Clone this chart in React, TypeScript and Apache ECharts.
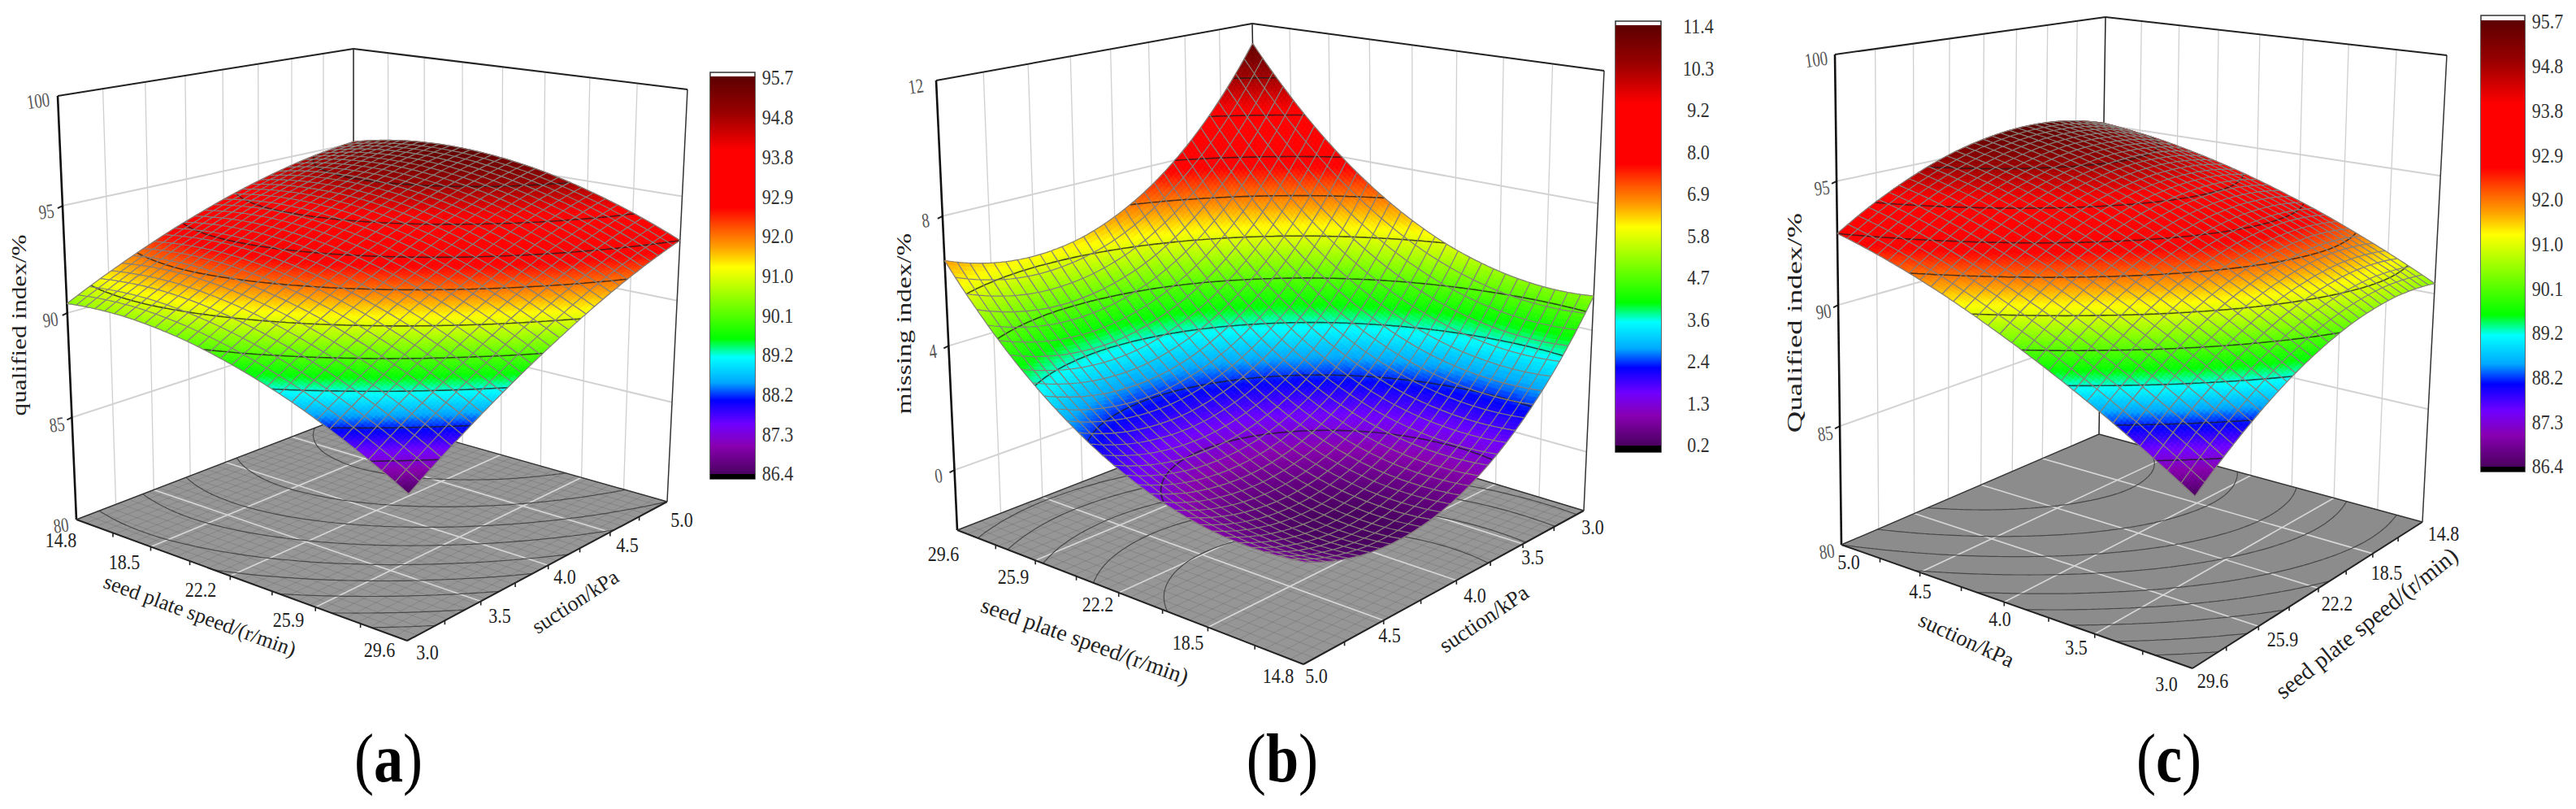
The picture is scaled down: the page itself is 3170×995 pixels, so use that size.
import React, { useEffect, useRef } from "react";
import * as echarts from "echarts";

// Rows run over suction (3.0 -> 5.0 kPa), columns over seed plate speed (14.8 -> 29.6 r/min).
const qualifiedRow0 = [90.44, 90.57, 90.59, 90.48, 90.26, 89.91, 89.45, 88.87, 88.16, 87.34, 86.4];
const qualifiedRow1 = [91.21, 91.36, 91.4, 91.31, 91.1, 90.78, 90.33, 89.77, 89.08, 88.28, 87.36];
const qualifiedRow2 = [91.91, 92.08, 92.14, 92.07, 91.88, 91.57, 91.15, 90.6, 89.94, 89.15, 88.25];
const qualifiedRow3 = [92.55, 92.74, 92.81, 92.76, 92.59, 92.3, 91.89, 91.37, 90.72, 89.95, 89.07];
const qualifiedRow4 = [93.11, 93.32, 93.41, 93.38, 93.23, 92.96, 92.57, 92.06, 91.43, 90.69, 89.82];
const qualifiedRow5 = [93.61, 93.84, 93.95, 93.93, 93.8, 93.55, 93.18, 92.69, 92.08, 91.35, 90.5];
const qualifiedRow6 = [94.04, 94.29, 94.41, 94.42, 94.31, 94.07, 93.72, 93.25, 92.66, 91.95, 91.12];
const qualifiedRow7 = [94.4, 94.67, 94.81, 94.84, 94.74, 94.53, 94.19, 93.74, 93.17, 92.48, 91.67];
const qualifiedRow8 = [94.7, 94.98, 95.14, 95.19, 95.11, 94.91, 94.6, 94.17, 93.61, 92.94, 92.15];
const qualifiedRow9 = [94.92, 95.22, 95.41, 95.47, 95.41, 95.23, 94.94, 94.52, 93.99, 93.33, 92.56];
const qualifiedRow10 = [95.08, 95.4, 95.6, 95.68, 95.64, 95.48, 95.21, 94.81, 94.29, 93.66, 92.9];
const qualifiedValues = [qualifiedRow0, qualifiedRow1, qualifiedRow2, qualifiedRow3, qualifiedRow4, qualifiedRow5, qualifiedRow6, qualifiedRow7, qualifiedRow8, qualifiedRow9, qualifiedRow10];

const missingRow0 = [5.1, 5.04, 5.14, 5.39, 5.78, 6.33, 7.03, 7.88, 8.88, 10.04, 11.34];
const missingRow1 = [3.84, 3.78, 3.87, 4.11, 4.5, 5.04, 5.74, 6.58, 7.58, 8.73, 10.02];
const missingRow2 = [2.77, 2.7, 2.79, 3.02, 3.41, 3.95, 4.63, 5.47, 6.46, 7.6, 8.89];
const missingRow3 = [1.89, 1.82, 1.9, 2.12, 2.5, 3.03, 3.72, 4.55, 5.53, 6.67, 7.95];
const missingRow4 = [1.2, 1.12, 1.19, 1.41, 1.79, 2.31, 2.99, 3.82, 4.79, 5.92, 7.2];
const missingRow5 = [0.69, 0.61, 0.67, 0.89, 1.26, 1.78, 2.45, 3.27, 4.24, 5.36, 6.64];
const missingRow6 = [0.38, 0.29, 0.35, 0.56, 0.92, 1.43, 2.1, 2.91, 3.88, 5.0, 6.26];
const missingRow7 = [0.25, 0.15, 0.21, 0.41, 0.77, 1.28, 1.93, 2.74, 3.7, 4.82, 6.08];
const missingRow8 = [0.31, 0.21, 0.26, 0.46, 0.81, 1.31, 1.96, 2.76, 3.72, 4.82, 6.08];
const missingRow9 = [0.56, 0.45, 0.5, 0.69, 1.03, 1.53, 2.17, 2.97, 3.92, 5.02, 6.27];
const missingRow10 = [1.0, 0.89, 0.92, 1.11, 1.45, 1.94, 2.58, 3.37, 4.31, 5.41, 6.65];
const missingValues = [missingRow0, missingRow1, missingRow2, missingRow3, missingRow4, missingRow5, missingRow6, missingRow7, missingRow8, missingRow9, missingRow10];

const speedTicks = ["14.8", "18.5", "22.2", "25.9", "29.6"];
const suctionTicks = ["3.0", "3.5", "4.0", "4.5", "5.0"];
const qualifiedAxisTicks = [80, 85, 90, 95, 100];
const missingAxisTicks = [0, 4, 8, 12];
const qualifiedLegend = ["95.7", "94.8", "93.8", "92.9", "92.0", "91.0", "90.1", "89.2", "88.2", "87.3", "86.4"];
const missingLegend = ["11.4", "10.3", "9.2", "8.0", "6.9", "5.8", "4.7", "3.6", "2.4", "1.3", "0.2"];

const SERIF = '"Liberation Serif", serif';
const TABLE_CELLS = 10;
const MESH_PER_CELL = 3;
const FACETS_PER_MESH = 4;
const FINE = TABLE_CELLS * MESH_PER_CELL * FACETS_PER_MESH;
const MESH_TOTAL = TABLE_CELLS * MESH_PER_CELL;

const colorStops: [number, string][] = [
  [0, "#5c0000"],
  [0.09, "#980000"],
  [0.187, "#ff0000"],
  [0.33, "#ff0000"],
  [0.385, "#ff5a00"],
  [0.43, "#ffa000"],
  [0.48, "#ffff00"],
  [0.66, "#00ff00"],
  [0.706, "#00ffff"],
  [0.77, "#00a8ff"],
  [0.815, "#0000ff"],
  [0.875, "#7000ff"],
  [0.93, "#8800b0"],
  [1, "#4a0060"],
];

const rgb = (h: string) => [parseInt(h.slice(1, 3), 16), parseInt(h.slice(3, 5), 16), parseInt(h.slice(5, 7), 16)];
function rampColor(f: number) {
  const x = Math.max(0, Math.min(1, f));
  for (let i = 1; i < colorStops.length; i++) {
    if (x <= colorStops[i][0]) {
      const [a, ca] = colorStops[i - 1];
      const [b, cb] = colorStops[i];
      const k = (x - a) / (b - a);
      const p = rgb(ca);
      const q = rgb(cb);
      return `rgb(${Math.round(p[0] + (q[0] - p[0]) * k)},${Math.round(p[1] + (q[1] - p[1]) * k)},${Math.round(p[2] + (q[2] - p[2]) * k)})`;
    }
  }
  return colorStops[colorStops.length - 1][1];
}

type Pt = [number, number];
function homography(p0: Pt, p1: Pt, p2: Pt, p3: Pt) {
  const dx1 = p1[0] - p2[0], dx2 = p3[0] - p2[0], sx = p0[0] - p1[0] + p2[0] - p3[0];
  const dy1 = p1[1] - p2[1], dy2 = p3[1] - p2[1], sy = p0[1] - p1[1] + p2[1] - p3[1];
  const den = dx1 * dy2 - dx2 * dy1;
  const g = (sx * dy2 - dx2 * sy) / den;
  const h = (dx1 * sy - sx * dy1) / den;
  const a = p1[0] - p0[0] + g * p1[0], b = p3[0] - p0[0] + h * p3[0], c = p0[0];
  const d = p1[1] - p0[1] + g * p1[1], e = p3[1] - p0[1] + h * p3[1], f = p0[1];
  return (u: number, v: number): Pt => {
    const w = g * u + h * v + 1;
    return [(a * u + b * v + c) / w, (d * u + e * v + f) / w];
  };
}

// Smooth evaluation of a table between its nodes, only used to shade inside a cell.
function buildField(table: number[][]) {
  const extend = (r: number[]) => {
    const n = r.length - 1;
    return [3 * r[0] - 3 * r[1] + r[2], ...r, 3 * r[n] - 3 * r[n - 1] + r[n - 2]];
  };
  const rows = table.map(extend);
  const n = rows.length - 1;
  const ext = [
    rows[0].map((_, i) => 3 * rows[0][i] - 3 * rows[1][i] + rows[2][i]),
    ...rows,
    rows[0].map((_, i) => 3 * rows[n][i] - 3 * rows[n - 1][i] + rows[n - 2][i]),
  ];
  const cr = (a: number, b: number, c: number, d: number, x: number) =>
    b + 0.5 * x * (c - a + x * (2 * a - 5 * b + 4 * c - d + x * (3 * b - a - 3 * c + d)));
  const field: number[][] = [];
  for (let fi = 0; fi <= FINE; fi++) {
    field.push([]);
    const gs = (fi / FINE) * TABLE_CELLS;
    const i = Math.min(TABLE_CELLS - 1, Math.floor(gs));
    for (let fj = 0; fj <= FINE; fj++) {
      const gt = (fj / FINE) * TABLE_CELLS;
      const j = Math.min(TABLE_CELLS - 1, Math.floor(gt));
      const col = [0, 1, 2, 3].map((k) => cr(ext[j + k][i], ext[j + k][i + 1], ext[j + k][i + 2], ext[j + k][i + 3], gs - i));
      field[fi].push(cr(col[0], col[1], col[2], col[3], gt - j));
    }
  }
  return field;
}

const panels: any[] = [
  {
    table: qualifiedValues, legend: qualifiedLegend, zMin: 80, zMax: 100, zTicks: qualifiedAxisTicks, r: 1.05,
    st: { L: [0, 0], F: [1, 0], R: [1, 1], B: [0, 1] },
    floor: { L: [94, 639], B: [435, 508], R: [821, 617], F: [501, 788] },
    top: { L: [71, 118], B: [435, 60], R: [846, 110], F: [507, 204] },
    floorFill: "#969696",
    floorMesh: true,
    zLabelPos: [[75, 646], [70, 522], [62, 393], [57, 260], [47, 124]],
    speedLabelPos: [[75, 665], [153, 692], [247, 726], [355, 763], [467, 800]],
    suctionLabelPos: [[526, 803], [615, 758], [695, 710], [772, 671], [839, 640]],
    zTitle: { text: "qualified index/%", x: 24, y: 400, scale: 1.25 },
    speedTitle: { x: 246, y: 757, rot: -20, size: 26 },
    suctionTitle: { x: 708, y: 740, rot: 33, size: 26 },
    bar: { x: 874, w: 55, top: 89, white: 94, black: 583, bottom: 589, labelX: 957, first: 96, last: 583 },
    caption: { letter: "a", x: 478 },
  },
  {
    table: missingValues, legend: missingLegend, zMin: -2, zMax: 12, zTicks: missingAxisTicks, r: 1.08,
    st: { L: [1, 1], F: [0, 1], R: [0, 0], B: [1, 0] },
    floor: { L: [1178, 652], B: [1550, 508], R: [1949, 628], F: [1604, 817] },
    top: { L: [1152, 99], B: [1541, 29], R: [1974, 87], F: [1610, 192] },
    floorFill: "#969696",
    floorMesh: true,
    zLabelPos: [[1155, 585], [1148, 432], [1139, 271], [1127, 106]],
    speedLabelPos: [[1573, 832], [1462, 791], [1351, 744], [1247, 710], [1161, 682]],
    suctionLabelPos: [[1960, 649], [1886, 686], [1815, 733], [1710, 782], [1620, 832]],
    zTitle: { text: "missing index/%", x: 1113, y: 398, scale: 1.33 },
    speedTitle: { x: 1335, y: 788, rot: -19.6, size: 28 },
    suctionTitle: { x: 1826, y: 761, rot: 34, size: 27 },
    bar: { x: 1988, w: 56, top: 26, white: 31, black: 548, bottom: 556, labelX: 2090, first: 33, last: 548 },
    caption: { letter: "b", x: 1578 },
  },
  {
    table: qualifiedValues, legend: qualifiedLegend, zMin: 80, zMax: 100, zTicks: qualifiedAxisTicks, r: 1.045,
    st: { L: [1, 1], F: [1, 0], R: [0, 0], B: [0, 1] },
    floor: { L: [2266, 670], B: [2583, 534], R: [2981, 642], F: [2698, 822] },
    top: { L: [2258, 67], B: [2591, 21], R: [3011, 68], F: [2708, 140] },
    floorFill: "#8c8c8c",
    floorMesh: false,
    zLabelPos: [[2248, 678], [2246, 533], [2244, 383], [2242, 231], [2235, 73]],
    speedLabelPos: [[3007, 657], [2937, 705], [2876, 743], [2809, 787], [2723, 838]],
    suctionLabelPos: [[2666, 842], [2555, 797], [2461, 762], [2363, 728], [2275, 692]],
    zTitle: { text: "Qualified index/%", x: 2209, y: 397, scale: 1.47 },
    speedTitle: { x: 2912, y: 766, rot: 38.7, size: 29 },
    suctionTitle: { x: 2420, y: 787, rot: -24.7, size: 27 },
    bar: { x: 3053, w: 54, top: 19, white: 25, black: 574, bottom: 580, labelX: 3135, first: 27, last: 574 },
    caption: { letter: "c", x: 2669 },
  },
];

function setup(p: any) {
  const order = (c: any) => [c[[0, 0].join()], c[[1, 0].join()], c[[1, 1].join()], c[[0, 1].join()]];
  const lookup = (corners: any) => {
    const m: any = {};
    for (const k of ["L", "F", "R", "B"]) m[p.st[k].join()] = corners[k];
    return m;
  };
  const a = order(lookup(p.floor));
  const b = order(lookup(p.top));
  p.H0 = homography(a[0], a[1], a[2], a[3]);
  p.H1 = homography(b[0], b[1], b[2], b[3]);
  p.field = buildField(p.table);
  const nums = p.legend.map(Number);
  p.levels = nums.slice(1, -1);
  p.vMax = nums[0];
  p.vMin = nums[nums.length - 1];
  p.project = (s: number, t: number, v: number): Pt => {
    const w = (v - p.zMin) / (p.zMax - p.zMin);
    const f = w / (w + (1 - w) * p.r);
    const q0 = p.H0(s, t);
    const q1 = p.H1(s, t);
    return [q0[0] + (q1[0] - q0[0]) * f, q0[1] + (q1[1] - q0[1]) * f];
  };
}
panels.forEach(setup);

const fmt = (q: number[]) => `${q[0].toFixed(1)} ${q[1].toFixed(1)}`;

function contourPath(field: number[][], pts: number[][][], levels: number[], i0: number, i1: number, j0: number, j1: number) {
  const out: string[] = [];
  for (let i = i0; i < i1; i++) {
    for (let j = j0; j < j1; j++) {
      const vs = [field[i][j], field[i + 1][j], field[i + 1][j + 1], field[i][j + 1]];
      const ps = [pts[i][j], pts[i + 1][j], pts[i + 1][j + 1], pts[i][j + 1]];
      const lo = Math.min(...vs);
      const hi = Math.max(...vs);
      for (const lv of levels) {
        if (lv < lo || lv >= hi) continue;
        const hit: number[][] = [];
        for (let e = 0; e < 4; e++) {
          const a = vs[e];
          const b = vs[(e + 1) % 4];
          if ((a < lv && b >= lv) || (a >= lv && b < lv)) {
            const k = (lv - a) / (b - a);
            const pa = ps[e];
            const pb = ps[(e + 1) % 4];
            hit.push([pa[0] + (pb[0] - pa[0]) * k, pa[1] + (pb[1] - pa[1]) * k]);
          }
        }
        if (hit.length >= 2) out.push(`M${fmt(hit[0])}L${fmt(hit[1])}`);
      }
    }
  }
  return out.join("");
}

function surfaceRenderer(p: any) {
  return (_params: any, api: any) => {
    if (!p.pts) {
      p.pts = p.field.map((col: number[], fi: number) =>
        col.map((v: number, fj: number) => api.coord(p.project(fi / FINE, fj / FINE, v))),
      );
    }
    const ci = api.value(0);
    const cj = api.value(1);
    const size = MESH_PER_CELL * FACETS_PER_MESH;
    const i0 = ci * size, i1 = i0 + size, j0 = cj * size, j1 = j0 + size;
    const field = p.field, pts = p.pts;
    const bins: Record<number, string[]> = {};
    const span = p.vMax - p.vMin;
    for (let i = i0; i < i1; i++) {
      for (let j = j0; j < j1; j++) {
        const v = (field[i][j] + field[i + 1][j] + field[i + 1][j + 1] + field[i][j + 1]) / 4;
        const bin = Math.round(((p.vMax - v) / span) * 220);
        (bins[bin] = bins[bin] || []).push(
          `M${fmt(pts[i][j])}L${fmt(pts[i + 1][j])}L${fmt(pts[i + 1][j + 1])}L${fmt(pts[i][j + 1])}Z`,
        );
      }
    }
    const children: any[] = Object.keys(bins).map((k) => {
      const color = rampColor(Number(k) / 220);
      return { type: "path", shape: { pathData: bins[Number(k)].join("") }, style: { fill: color, stroke: color, lineWidth: 0.7 } };
    });
    const contour = contourPath(field, pts, p.levels, i0, i1, j0, j1);
    if (contour) {
      children.push({ type: "path", shape: { pathData: contour }, style: { fill: "none", stroke: "rgba(30,30,30,0.78)", lineWidth: 1.6 } });
    }
    const mesh: string[] = [];
    for (let m = 0; m <= MESH_PER_CELL; m++) {
      const a = i0 + m * FACETS_PER_MESH;
      const b = j0 + m * FACETS_PER_MESH;
      let d1 = `M${fmt(pts[a][j0])}`;
      for (let j = j0 + 1; j <= j1; j++) d1 += `L${fmt(pts[a][j])}`;
      let d2 = `M${fmt(pts[i0][b])}`;
      for (let i = i0 + 1; i <= i1; i++) d2 += `L${fmt(pts[i][b])}`;
      mesh.push(d1, d2);
    }
    children.push({ type: "path", shape: { pathData: mesh.join("") }, style: { fill: "none", stroke: "#857f7a", lineWidth: 1.25 } });
    return { type: "group", children };
  };
}

const text = (t: string, x: number, y: number, size: number, fill = "#222", rot = 0, scaleX = 1) => ({
  type: "text",
  x,
  y,
  rotation: (rot * Math.PI) / 180,
  scaleX,
  style: { text: t, fill, font: `${size}px ${SERIF}`, align: "center", verticalAlign: "middle", textAlign: "center", textVerticalAlign: "middle" },
});

function frameRenderer(p: any) {
  return (_params: any, api: any) => {
    const c = (q: Pt) => api.coord(q);
    const children: any[] = [];
    const line = (a: Pt, b: Pt, stroke: string, lineWidth: number) => {
      const A = c(a), B = c(b);
      children.push({ type: "line", shape: { x1: A[0], y1: A[1], x2: B[0], y2: B[1] }, style: { stroke, lineWidth } });
    };
    const { L, B, R, F } = p.st;
    const mix = (a: number[], b: number[], k: number) => [a[0] + (b[0] - a[0]) * k, a[1] + (b[1] - a[1]) * k];
    const at = (st: number[], v: number) => p.project(st[0], st[1], v);
    // walls
    for (let k = 1; k < 8; k++) {
      for (const [from, to] of [[L, B], [B, R]]) {
        const st = mix(from, to, k / 8);
        line(at(st, p.zMin), at(st, p.zMax), "#cfcfcf", 1.3);
      }
    }
    for (const z of p.zTicks) {
      if (z === p.zMin || z === p.zMax) continue;
      line(at(L, z), at(B, z), "#d2d2d2", 2);
      line(at(B, z), at(R, z), "#d2d2d2", 2);
      const q = at(L, z);
      line([q[0] - 6, q[1] + 3], q, "#222", 2);
    }
    line(at(L, p.zMin), at(L, p.zMax), "#111", 2.6);
    line(at(B, p.zMin), at(B, p.zMax), "#222", 1.5);
    line(at(R, p.zMin), at(R, p.zMax), "#333", 1.5);
    line(at(L, p.zMax), at(B, p.zMax), "#222", 2);
    line(at(B, p.zMax), at(R, p.zMax), "#222", 2);
    // floor
    const quad = [p.H0(L[0], L[1]), p.H0(B[0], B[1]), p.H0(R[0], R[1]), p.H0(F[0], F[1])].map(c);
    children.push({ type: "polygon", shape: { points: quad }, style: { fill: p.floorFill } });
    if (p.floorMesh) {
      for (let m = 0; m <= MESH_TOTAL; m++) {
        const k = m / MESH_TOTAL;
        line(p.H0(k, 0), p.H0(k, 1), "rgba(70,70,70,0.25)", 0.8);
        line(p.H0(0, k), p.H0(1, k), "rgba(70,70,70,0.25)", 0.8);
      }
    }
    for (let m = 1; m < 4; m++) {
      const k = m / 4;
      line(p.H0(k, 0), p.H0(k, 1), "#d8d8d8", 1.6);
      line(p.H0(0, k), p.H0(1, k), "#d8d8d8", 1.6);
    }
    const floorPts = p.field.map((col: number[], fi: number) => col.map((_: number, fj: number) => c(p.H0(fi / FINE, fj / FINE))));
    children.push({ type: "path", shape: { pathData: contourPath(p.field, floorPts, p.levels, 0, FINE, 0, FINE) }, style: { fill: "none", stroke: "#484848", lineWidth: 1.2 } });
    line(p.H0(L[0], L[1]), p.H0(F[0], F[1]), "#222", 2);
    line(p.H0(F[0], F[1]), p.H0(R[0], R[1]), "#222", 2);
    line(p.H0(L[0], L[1]), p.H0(B[0], B[1]), "#333", 1.4);
    line(p.H0(B[0], B[1]), p.H0(R[0], R[1]), "#333", 1.4);
    for (let k = 1; k < 8; k++) {
      for (const [from, to] of [[L, F], [F, R]]) {
        const st = mix(from, to, k / 8);
        const q = p.H0(st[0], st[1]);
        line(q, [q[0], q[1] + 5], "#222", 1.6);
      }
    }
    // tick labels and titles
    p.zTicks.forEach((z: number, i: number) => {
      const q = p.zLabelPos[i];
      children.push(text(String(z), q[0], q[1], 25, "#555", 8, 0.75));
    });
    speedTicks.forEach((s, i) => children.push(text(s, p.speedLabelPos[i][0], p.speedLabelPos[i][1], 25, "#222", 0, 0.88)));
    suctionTicks.forEach((s, i) => children.push(text(s, p.suctionLabelPos[i][0], p.suctionLabelPos[i][1], 25, "#222", 0, 0.88)));
    children.push(text(p.zTitle.text, p.zTitle.x, p.zTitle.y, 25, "#222", 90, p.zTitle.scale));
    children.push(text("seed plate speed/(r/min)", p.speedTitle.x, p.speedTitle.y, p.speedTitle.size, "#222", p.speedTitle.rot));
    children.push(text("suction/kPa", p.suctionTitle.x, p.suctionTitle.y, p.suctionTitle.size, "#222", p.suctionTitle.rot));
    // colour bar
    const b = p.bar;
    const topLeft = c([b.x, b.top]);
    children.push({ type: "rect", shape: { x: topLeft[0], y: topLeft[1], width: b.w, height: b.bottom - b.top }, style: { fill: "#fff", stroke: "#333", lineWidth: 1.5 } });
    children.push({
      type: "rect",
      shape: { x: b.x, y: b.white, width: b.w, height: b.black - b.white },
      style: { fill: new echarts.graphic.LinearGradient(0, 0, 0, 1, colorStops.map(([offset, color]) => ({ offset, color }))) },
    });
    children.push({ type: "rect", shape: { x: b.x, y: b.black, width: b.w, height: b.bottom - b.black }, style: { fill: "#000" } });
    p.legend.forEach((s: string, i: number) => {
      children.push(text(s, b.labelX, b.first + ((b.last - b.first) * i) / (p.legend.length - 1), 25, "#333", 0, 0.88));
    });
    // caption
    children.push({
      type: "text",
      x: p.caption.x,
      y: 933,
      scaleX: 0.86,
      style: {
        text: `{p|(}{b|${p.caption.letter}}{p|)}`,
        align: "center",
        verticalAlign: "middle",
        textAlign: "center",
        textVerticalAlign: "middle",
        rich: {
          p: { font: `84px ${SERIF}`, fill: "#000" },
          b: { font: `bold 84px ${SERIF}`, fill: "#000" },
        },
      },
    });
    return { type: "group", children };
  };
}

function cellOrder(p: any) {
  const out: number[][] = [];
  const b = p.st.B;
  for (let a = 0; a < TABLE_CELLS; a++) {
    for (let d = 0; d < TABLE_CELLS; d++) {
      out.push([b[0] === 0 ? a : TABLE_CELLS - 1 - a, b[1] === 0 ? d : TABLE_CELLS - 1 - d]);
    }
  }
  return out;
}

export default function App() {
  const ref = useRef<HTMLDivElement>(null);
  useEffect(() => {
    document.body.style.margin = "0";
    document.body.style.background = "#fff";
    const chart = echarts.init(ref.current!, undefined, { renderer: "svg" });
    const series: any[] = [];
    panels.forEach((p) => {
      series.push({ type: "custom", coordinateSystem: "cartesian2d", clip: false, silent: true, progressive: 0, data: [[0, 0]], renderItem: frameRenderer(p), z: 1 });
      series.push({ type: "custom", coordinateSystem: "cartesian2d", clip: false, silent: true, progressive: 0, data: cellOrder(p), renderItem: surfaceRenderer(p), z: 2 });
    });
    chart.setOption({
      animation: false,
      backgroundColor: "#fff",
      grid: { left: 0, top: 0, right: 0, bottom: 0 },
      xAxis: { type: "value", min: 0, max: 3170, show: false },
      yAxis: { type: "value", min: 0, max: 995, inverse: true, show: false },
      series,
    });
    return () => chart.dispose();
  }, []);
  return <div ref={ref} style={{ width: 3170, height: 995 }} />;
}
